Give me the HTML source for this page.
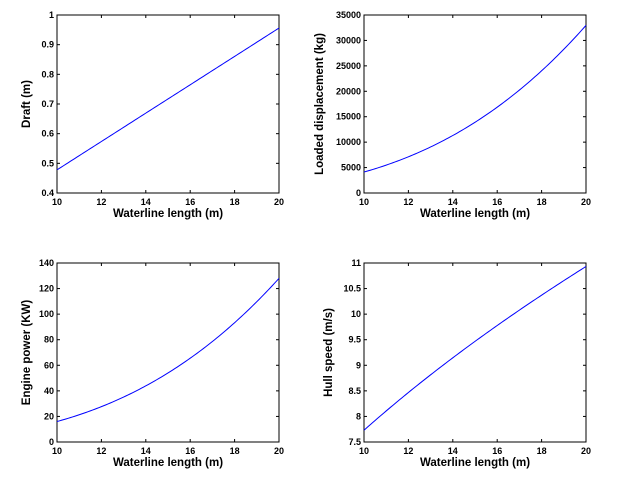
<!DOCTYPE html>
<html><head><meta charset="utf-8"><style>body{margin:0;background:#fff}svg{display:block}text{font-family:"Liberation Sans",sans-serif;font-weight:bold;fill:#000}</style></head>
<body><svg id="s" width="635" height="486" xmlns="http://www.w3.org/2000/svg"></svg>
<script>
const s=document.getElementById('s');let h='';
function ax(x0,x1,y0,y1,ymin,ymax,yt,ylab,f,lo){
 const X=v=>x0+(v-10)/10*(x1-x0),Y=v=>y1-(v-ymin)/(ymax-ymin)*(y1-y0);
 h+=`<rect x="${x0}" y="${y0}" width="${x1-x0}" height="${y1-y0}" fill="#fff" stroke="#000" stroke-width="1"/>`;
 for(let v=10;v<=20;v+=2){const x=X(v);h+=`<line x1="${x}" y1="${y1}" x2="${x}" y2="${y1-3}" stroke="#000"/><line x1="${x}" y1="${y0}" x2="${x}" y2="${y0+3}" stroke="#000"/><text x="${x}" y="${y1+12}" font-size="9" text-anchor="middle">${v}</text>`;}
 for(const v of yt){const y=Y(v);h+=`<line x1="${x0}" y1="${y}" x2="${x0+3}" y2="${y}" stroke="#000"/><line x1="${x1}" y1="${y}" x2="${x1-3}" y2="${y}" stroke="#000"/><text x="${x0-3}" y="${y+3}" font-size="9" text-anchor="end">${v}</text>`;}
 h+=`<text x="${(x0+x1)/2}" y="${y1+24}" font-size="11.5" text-anchor="middle">Waterline length (m)</text>`;
 h+=`<text transform="translate(${x0-lo},${(y0+y1)/2}) rotate(-90)" font-size="11.5" text-anchor="middle">${ylab}</text>`;
 let p=[];for(let i=0;i<=100;i++){const v=10+i/10;p.push(X(v).toFixed(2)+','+Y(f(v)).toFixed(2));}
 h+=`<polyline points="${p.join(' ')}" fill="none" stroke="#0000ff" stroke-width="1"/>`;
}
ax(57,279,15,193,0.4,1,[0.4,0.5,0.6,0.7,0.8,0.9,1],'Draft (m)',v=>0.478*v/10,27);
ax(364,586,15,193,0,35000,[0,5000,10000,15000,20000,25000,30000,35000],'Loaded displacement (kg)',v=>4120*Math.pow(v/10,3),41);
ax(57,279,263,442,0,140,[0,20,40,60,80,100,120,140],'Engine power (KW)',v=>16*Math.pow(v/10,3),27);
ax(364,586,263,442,7.5,11,[7.5,8,8.5,9,9.5,10,10.5,11],'Hull speed (m/s)',v=>7.73*Math.sqrt(v/10),32);
s.innerHTML=h;
</script></body></html>
